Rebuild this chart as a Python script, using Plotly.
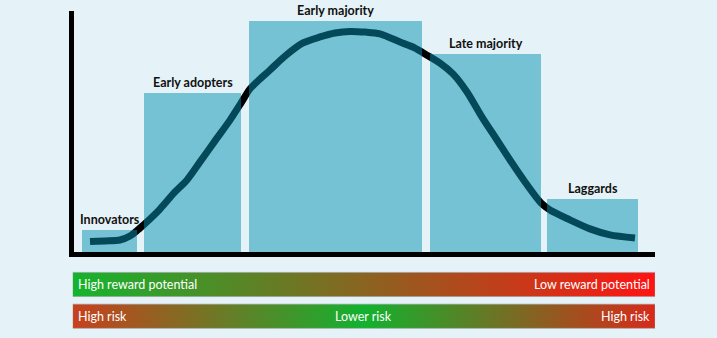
import plotly.graph_objects as go

# Adoption segments: horizontal extent (time units) and relative size (% of peak)
segments = ["Innovators", "Early adopters", "Early majority", "Late majority", "Laggards"]
seg_start = [10, 72, 177, 358, 475]
seg_end = [65, 169, 350, 469, 566]
seg_height = [9.5, 68.8, 100, 85.7, 22.9]

# Hand-traced adoption curve
curve_x = [18, 33, 48, 58, 68, 78, 88, 103, 115, 128, 143, 158, 169, 178, 188, 198,
           213, 231, 248, 263, 278, 293, 308, 328, 343, 353, 368, 381, 395, 410, 425,
           438, 453, 469, 478, 498, 518, 538, 563]
curve_y = [4.5, 4.8, 5.2, 6.9, 10.4, 14.3, 18.6, 26.0, 31.2, 39.0, 48.1, 57.1, 64.5,
           70.6, 74.9, 78.8, 84.8, 90.5, 93.1, 94.8, 95.5, 95.2, 94.4, 90.9, 88.3, 85.7,
           81.8, 77.1, 69.3, 58.4, 48.5, 39.8, 30.3, 21.2, 18.2, 13.9, 10.0, 7.4, 6.1]

# Scale bands below the chart: (left label, centre label, right label, colour stops)
band_left = ["High reward potential", "High risk"]
band_mid = ["", "Lower risk"]
band_right = ["Low reward potential", "High risk"]
band_colors = [
    [[0, "#14b42d"], [1, "#ff1414"]],
    [[0, "#c8401e"], [0.5, "#12b22e"], [1, "#d82a1a"]],
]

W, H = 717, 338
BG = "#e5f2f7"
FONT = "Lato"

centers = [(a + b) / 2 for a, b in zip(seg_start, seg_end)]
widths = [b - a for a, b in zip(seg_start, seg_end)]

fig = go.Figure()

# Curve underneath, translucent bars drawn over it on an overlaid axis
fig.add_trace(go.Scatter(
    x=curve_x, y=curve_y, mode="lines",
    line=dict(color="black", width=7, shape="spline", smoothing=0.8),
    xaxis="x", yaxis="y", hoverinfo="skip",
))
fig.add_trace(go.Bar(
    x=centers, y=seg_height, width=widths,
    marker=dict(color="rgba(6,146,180,0.5)", line=dict(width=0)),
    xaxis="x", yaxis="y2", hoverinfo="skip",
))

annotations = []
for name, cx, h in zip(segments, centers, seg_height):
    annotations.append(dict(
        x=cx, y=h, xref="x", yref="y2", text=name, showarrow=False,
        yanchor="bottom", xanchor="center", yshift=1,
        font=dict(family=FONT, size=12.5, color="#111111", weight="bold"),
    ))

half = 0.38
for r, (cs, lt, mt, rt) in enumerate(zip(band_colors, band_left, band_mid, band_right)):
    fig.add_trace(go.Scatter(
        x=[0, 1, 1, 0, 0],
        y=[r - half, r - half, r + half, r + half, r - half],
        mode="lines", fill="toself",
        fillgradient=dict(type="horizontal", colorscale=cs),
        line=dict(color="rgba(150,150,150,0.55)", width=1),
        xaxis="x3", yaxis="y3", hoverinfo="skip",
    ))
    tf = dict(family=FONT, size=12.5, color="white")
    annotations.append(dict(x=0, y=r, xref="x3", yref="y3", text=lt, showarrow=False,
                            xanchor="left", yanchor="middle", xshift=3, font=tf))
    annotations.append(dict(x=1, y=r, xref="x3", yref="y3", text=rt, showarrow=False,
                            xanchor="right", yanchor="middle", xshift=-3, font=tf))
    if mt:
        annotations.append(dict(x=0.5, y=r, xref="x3", yref="y3", text=mt, showarrow=False,
                                xanchor="center", yanchor="middle", font=tf))

xdom = [74 / W, 655 / W]
ydom = [86 / H, 327 / H]
yrange = [0, 104.33]
hidden = dict(visible=False, showgrid=False, zeroline=False)

fig.update_layout(
    width=W, height=H,
    margin=dict(l=0, r=0, t=0, b=0),
    paper_bgcolor=BG, plot_bgcolor="rgba(0,0,0,0)",
    showlegend=False, hovermode=False,
    xaxis=dict(domain=xdom, range=[2, 583], showline=True, linewidth=5, linecolor="black",
               showgrid=False, zeroline=False, showticklabels=False, ticks="", anchor="y"),
    yaxis=dict(domain=ydom, range=yrange, showline=True, linewidth=5, linecolor="black",
               showgrid=False, zeroline=False, showticklabels=False, ticks="", anchor="x"),
    yaxis2=dict(overlaying="y", range=yrange, anchor="x", **hidden),
    xaxis3=dict(domain=[72.7 / W, 655 / W], range=[0, 1], anchor="y3", **hidden),
    yaxis3=dict(domain=[0.01746, 0.2053], range=[1.5, -0.5], anchor="x3", **hidden),
    annotations=annotations,
)

fig.write_html("out.html")
